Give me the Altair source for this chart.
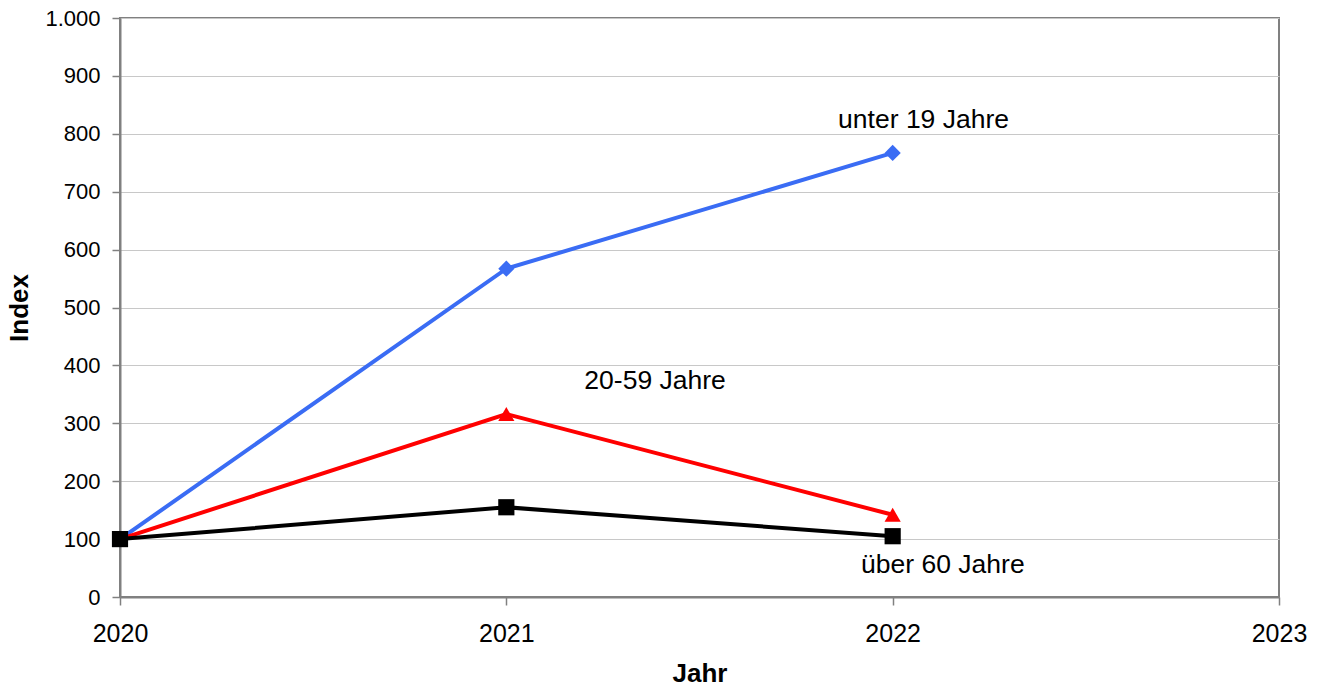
import altair as alt
import pandas as pd

years = [2020, 2021, 2022]
series_names = ["unter 19 Jahre", "20-59 Jahre", "über 60 Jahre"]
unter19 = [100, 567, 767]
mitte = [100, 316, 142]
ueber60 = [100, 155, 105]
colors = ["#3a6cf4", "#ff0000", "#000000"]
shapes = ["diamond", "triangle-up", "square"]

label_text = ["unter 19 Jahre", "20-59 Jahre", "über 60 Jahre"]
label_x = [2022.08, 2021.385, 2022.13]
label_y = [824, 373, 55]

rows = []
for name, vals in zip(series_names, [unter19, mitte, ueber60]):
    for y, v in zip(years, vals):
        rows.append({"Reihe": name, "Jahr": y, "Index": v})
df = pd.DataFrame(rows)
labels = pd.DataFrame({"text": label_text, "Jahr": label_x, "Index": label_y})

FONT = "Liberation Sans"

x = alt.X("Jahr:Q",
          scale=alt.Scale(domain=[2020, 2023], nice=False, zero=False),
          axis=alt.Axis(values=[2020, 2021, 2022, 2023], format="d", title="Jahr",
                        grid=False, tickSize=8, labelPadding=16, titlePadding=14,
                        labelFlush=False,
                        labelFontSize=25, titleFontSize=26))
y = alt.Y("Index:Q",
          scale=alt.Scale(domain=[0, 1000], nice=False),
          axis=alt.Axis(values=list(range(0, 1001, 100)), title="Index",
                        labelExpr="datum.value == 1000 ? '1.000' : datum.label",
                        tickSize=8, labelPadding=12, titlePadding=12,
                        labelFlush=False,
                        labelFontSize=22, titleFontSize=26))

color = alt.Color("Reihe:N", scale=alt.Scale(domain=series_names, range=colors), legend=None)
shape = alt.Shape("Reihe:N", scale=alt.Scale(domain=series_names, range=shapes), legend=None)

base = alt.Chart(df)
lines = base.mark_line(strokeWidth=4).encode(x=x, y=y, color=color, detail="Reihe:N")
points = base.mark_point(filled=True, size=262, opacity=1).encode(x=x, y=y, color=color, shape=shape)
texts = alt.Chart(labels).mark_text(font=FONT, fontSize=26.5, color="#000000", align="center",
                                    baseline="middle").encode(
    x=alt.X("Jahr:Q"), y=alt.Y("Index:Q"), text="text:N")

chart = alt.layer(lines, points, texts).properties(
    width=1159, height=579,
    padding={"left": 112, "top": 10, "right": 34, "bottom": 85},
    autosize=alt.AutoSizeParams(type="none"),
).configure_view(
    stroke="#808080", strokeWidth=2
).configure_axis(
    labelFont=FONT, titleFont=FONT, labelColor="#000000", titleColor="#000000",
    domainColor="#808080", domainWidth=2, tickColor="#808080", tickWidth=1.5,
    gridColor="#c8c8c8", gridWidth=1, titleFontWeight="bold"
)

chart.save("out.html", embed_options={"renderer": "svg", "actions": False})
